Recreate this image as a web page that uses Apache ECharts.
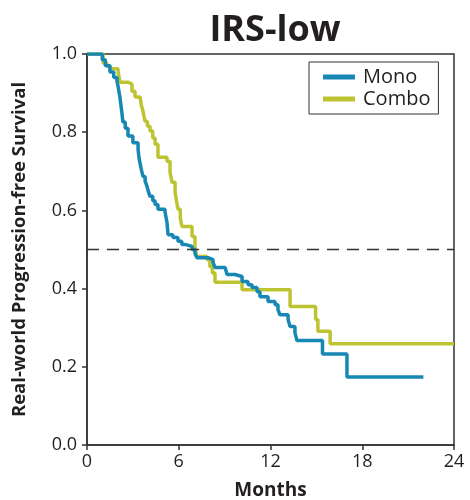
<!DOCTYPE html>
<html>
<head>
<meta charset="utf-8">
<script src="https://cdn.jsdelivr.net/npm/echarts@6/dist/echarts.min.js"></script>
<style>
  html, body { margin: 0; padding: 0; background: #fff; }
  #chart { width: 470px; height: 500px; }
</style>
</head>
<body>
<div id="chart"></div>
<script>
// Kaplan-Meier steps: [month, survival]
var monoTimes = [0, 1.0, 1.2, 1.5, 1.75, 1.96, 2.03, 2.15, 2.25, 2.35, 2.5, 2.68, 3.0, 3.34, 3.4, 3.47, 3.55, 3.66, 3.8, 3.92, 4.0, 4.12, 4.3, 4.45, 4.64, 5.1, 5.23, 5.3, 5.62, 5.95, 6.2, 6.41, 6.87, 7.06, 7.19, 7.91, 8.24, 8.37, 9.03, 9.16, 9.68, 10.14, 10.53, 10.79, 11.12, 11.31, 11.84, 12.3, 12.49, 12.62, 13.15, 13.28, 13.6, 13.73, 15.4, 17.0, 22.0];
var monoSurv = [1.0, 0.985, 0.97, 0.954, 0.94, 0.93, 0.918, 0.89, 0.86, 0.826, 0.81, 0.79, 0.773, 0.756, 0.735, 0.72, 0.705, 0.687, 0.675, 0.662, 0.65, 0.636, 0.625, 0.615, 0.603, 0.597, 0.569, 0.538, 0.531, 0.521, 0.513, 0.508, 0.5, 0.49, 0.479, 0.474, 0.467, 0.454, 0.449, 0.436, 0.431, 0.418, 0.41, 0.403, 0.392, 0.379, 0.367, 0.359, 0.346, 0.333, 0.321, 0.303, 0.287, 0.267, 0.233, 0.174, 0.174];

var comboTimes = [0, 0.85, 1.05, 1.3, 1.5, 2.03, 2.16, 2.68, 2.94, 3.14, 3.47, 3.55, 3.66, 3.79, 3.95, 4.12, 4.3, 4.45, 4.64, 5.23, 5.43, 5.56, 5.76, 5.85, 5.95, 6.1, 6.21, 6.87, 7.06, 7.19, 7.85, 8.04, 8.2, 8.37, 10.14, 13.28, 14.95, 15.1, 15.9, 24.0];
var comboSurv = [1.0, 1.0, 0.977, 0.97, 0.962, 0.956, 0.928, 0.923, 0.905, 0.89, 0.885, 0.87, 0.854, 0.828, 0.815, 0.803, 0.785, 0.769, 0.736, 0.726, 0.697, 0.672, 0.646, 0.625, 0.603, 0.58, 0.559, 0.533, 0.505, 0.482, 0.474, 0.456, 0.44, 0.416, 0.397, 0.354, 0.321, 0.291, 0.259, 0.259];

var xTicks = [0, 6, 12, 18, 24];
var yTicks = [0, 0.2, 0.4, 0.6, 0.8, 1.0];
var medianLine = 0.5;

function pairs(t, s) {
  var out = [];
  for (var i = 0; i < t.length; i++) out.push([t[i], s[i]]);
  return out;
}

var font = 'Open Sans';
var ink = '#231f20';
var chart = echarts.init(document.getElementById('chart'));

var option = {
  animation: false,
  title: {
    text: 'IRS-low',
    left: 270,
    textAlign: 'center',
    top: 8,
    textStyle: { fontFamily: font, fontWeight: 'bold', fontSize: 36, color: ink }
  },
  legend: {
    left: 309,
    top: 62,
    orient: 'vertical',
    data: ['Mono', 'Combo'],
    icon: 'rect',
    itemWidth: 32,
    itemHeight: 5,
    itemGap: 2,
    padding: [5, 8, 5, 14],
    borderColor: '#333',
    borderWidth: 1,
    textStyle: { fontFamily: font, fontSize: 20, color: ink, padding: [0, 0, 0, 3] }
  },
  grid: {
    left: 87,
    right: 16,
    top: 54,
    bottom: 55,
    outerBoundsMode: 'none',
    show: true,
    borderColor: '#333',
    borderWidth: 1.5
  },
  xAxis: {
    type: 'value',
    min: xTicks[0],
    max: xTicks[xTicks.length - 1],
    interval: 6,
    name: 'Months',
    nameLocation: 'middle',
    nameGap: 36,
    nameTextStyle: { fontFamily: font, fontWeight: 'bold', fontSize: 19, color: ink },
    axisLine: { lineStyle: { color: '#333', width: 1.5 } },
    axisTick: { length: 5, lineStyle: { color: '#333', width: 1.5 } },
    axisLabel: { fontFamily: font, fontSize: 18, color: ink, margin: 8 },
    splitLine: { show: false }
  },
  yAxis: {
    type: 'value',
    min: yTicks[0],
    max: yTicks[yTicks.length - 1],
    interval: 0.2,
    name: 'Real-world Progression-free Survival',
    nameLocation: 'middle',
    nameGap: 58,
    nameTextStyle: { fontFamily: font, fontWeight: 'bold', fontSize: 18.5, color: ink },
    axisLine: { lineStyle: { color: '#333', width: 1.5 } },
    axisTick: { length: 5, lineStyle: { color: '#333', width: 1.5 } },
    axisLabel: {
      fontFamily: font, fontSize: 18, color: ink, margin: 10,
      formatter: function (v) { return v.toFixed(1); }
    },
    splitLine: { show: false }
  },
  series: [
    {
      name: 'Combo',
      type: 'line',
      step: 'end',
      showSymbol: false,
      symbol: 'none',
      z: 2,
      data: pairs(comboTimes, comboSurv),
      itemStyle: { color: '#bec332' },
      lineStyle: { color: '#bec332', width: 3.5 },
      markLine: {
        silent: true,
        symbol: 'none',
        label: { show: false },
        lineStyle: { color: '#333', type: [12, 8], width: 1.3 },
        data: [{ yAxis: medianLine }]
      }
    },
    {
      name: 'Mono',
      type: 'line',
      step: 'end',
      showSymbol: false,
      symbol: 'none',
      z: 3,
      data: pairs(monoTimes, monoSurv),
      itemStyle: { color: '#1787b4' },
      lineStyle: { color: '#1787b4', width: 3.5 }
    }
  ]
};

chart.setOption(option);
</script>
</body>
</html>
